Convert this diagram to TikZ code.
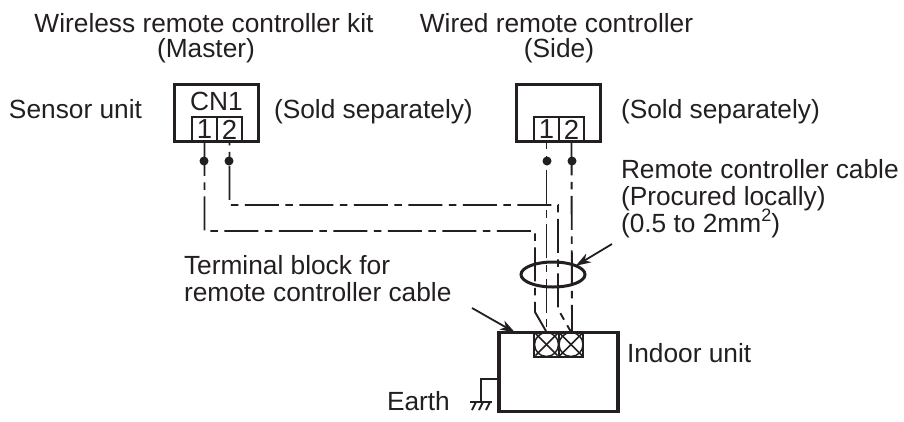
\documentclass[tikz,border=0pt]{standalone}
\usepackage{fontspec}
\setmainfont{Liberation Sans}
\usetikzlibrary{shapes.geometric,arrows.meta,calc}
\definecolor{ink}{HTML}{231F20}
\tikzset{
  x=1pt,y=-1pt,
  every node/.style={inner sep=0pt,outer sep=0pt,text=ink},
  txtc/.style={font=\fontsize{26.3}{27}\selectfont,anchor=base},
  unitbox/.style={draw=ink,line width=3.4pt,rectangle},
  termbox/.style={draw=ink,line width=1.7pt,rectangle,minimum width=25pt,minimum height=24.5pt,font=\fontsize{27.5}{27.5}\selectfont},
  xterm/.style={draw=ink,line width=1.7pt,rectangle,minimum width=24.5pt,minimum height=25pt,
    path picture={
      \draw[ink,line width=1.5pt] (path picture bounding box.center) circle[radius=12pt];
      \draw[ink,line width=1.5pt] ($(path picture bounding box.center)+(-11,-11)$) -- ($(path picture bounding box.center)+(11,11)$);
      \draw[ink,line width=1.5pt] ($(path picture bounding box.center)+(-11,11)$) -- ($(path picture bounding box.center)+(11,-11)$);
    }},
  jdot/.style={circle,fill=ink,minimum size=9pt},
  wire/.style={draw=ink,line width=1.9pt,dash pattern=on 34pt off 6.5pt on 7.5pt off 6.5pt,dash phase=#1},
  thin line/.style={draw=ink,line width=1.9pt},
  pointer/.style={draw=ink,line width=1.8pt,-{Stealth[length=15pt,width=10pt,inset=4.5pt]}},
}
\begin{document}
\begin{tikzpicture}
\useasboundingbox (0,0) rectangle (904,421);
% remote controller boxes
\node[termbox] (a1) at (204.5,129.5) {1};
\node[termbox] (a2) at (229.5,129.5) {2};
\node[termbox] (b1) at (546.5,129.5) {1};
\node[termbox] (b2) at (571.5,129.5) {2};
\node[unitbox,minimum width=84pt,minimum height=57pt] (master) at (216.5,113) {};
\node[unitbox,minimum width=84pt,minimum height=57pt] (side) at (558.5,113) {};
\node[txtc] (cn) at (216.5,110) {CN1};
% indoor unit
\node[xterm] (x1) at (546.5,344.5) {};
\node[xterm] (x2) at (571,344.5) {};
\node[unitbox,minimum width=119pt,minimum height=79pt] (indoor) at (558.5,372) {};
% junction dots
\node[jdot] (d1) at (204,161) {};
\node[jdot] (d2) at (229,161) {};
\node[jdot] (d3) at (547,161) {};
\node[jdot] (d4) at (572,161) {};
% bend points
\coordinate (w1a) at (204.5,231);
\coordinate (w1b) at (535,231);
\coordinate (w1c) at (535,312);
\coordinate (w2a) at (229.5,205);
\coordinate (w2b) at (558,205);
\coordinate (w2c) at (558,309);
% wires
\draw[wire=0pt] (a1.south) -- (w1a) -- (w1b) -- (w1c) -- (x1.north);
\draw[wire=30.5pt] (a2.south) -- (w2a) -- (w2b) -- (w2c) -- (x2.north);
\draw[wire=26.5pt] (b1.south) -- (x1.north);
\draw[wire=0.5pt] (b2.south) -- ([xshift=1pt]x2.north);
% cable bundle
\node[ellipse,draw=ink,line width=3pt,minimum width=64pt,minimum height=25pt] (bundle) at (553,274.5) {};
% pointers
\coordinate (p1) at (612,244);
\coordinate (p2) at (472,308);
\draw[pointer] (p1) -- (bundle.21);
\draw[pointer] (p2) -- ([xshift=16pt]indoor.north west);
% earth
\coordinate (e1) at (481,379);
\coordinate (e2) at (481,402);
\coordinate (g1) at (470,402);
\coordinate (g2) at (492,402);
\draw[thin line] ([yshift=-7pt]indoor.west) -- (e1) -- (e2);
\draw[thin line] (g1) -- (g2);
\draw[thin line] (476,402) -- (472,410);
\draw[thin line] (483,402) -- (479,410);
\draw[thin line] (490,402) -- (486,410);
% labels
\node[txtc] (t1) at (204,32) {Wireless remote controller kit};
\node[txtc] (t2) at (206,57) {(Master)};
\node[txtc] (t3) at (556.5,32) {Wired remote controller};
\node[txtc] (t4) at (559,57) {(Side)};
\node[txtc,anchor=base west] (t5) at (9,118) {Sensor unit};
\node[txtc,anchor=base west] (t6) at (274,118) {(Sold separately)};
\node[txtc,anchor=base west] (t7) at (621,118) {(Sold separately)};
\node[txtc,anchor=north west,align=left] (t8) at (621,159) {Remote controller cable\\(Procured locally)\\(0.5 to 2mm\smash{\raisebox{0.42em}{\fontsize{18}{18}\selectfont 2}})};
\node[txtc,anchor=base west] (t11) at (184,274) {Terminal block for};
\node[txtc,anchor=base west] (t12) at (184,301) {remote controller cable};
\node[txtc,anchor=base west] (t13) at (627,362) {Indoor unit};
\node[txtc,anchor=base west] (t14) at (387,410) {Earth};
\end{tikzpicture}
\end{document}
